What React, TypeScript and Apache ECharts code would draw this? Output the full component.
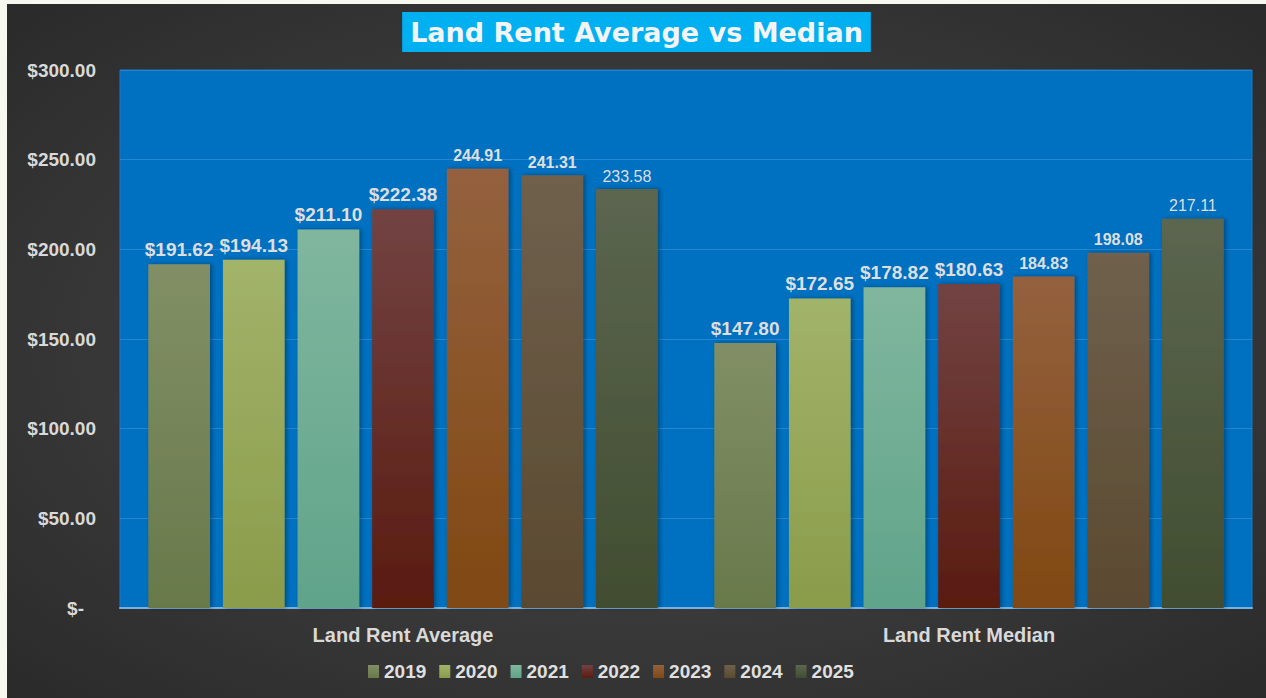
import React, { useEffect, useRef } from "react";
import * as echarts from "echarts";

const categories = ["Land Rent Average", "Land Rent Median"];
const years = ["2019", "2020", "2021", "2022", "2023", "2024", "2025"];
const values: number[][] = [
  [191.62, 147.8],
  [194.13, 172.65],
  [211.1, 178.82],
  [222.38, 180.63],
  [244.91, 184.83],
  [241.31, 198.08],
  [233.58, 217.11],
];
// label style per year: A = "$" bold large, B = bold plain, C = regular plain
const labelStyles = ["A", "A", "A", "A", "B", "B", "C"];
const topColors = ["#828f66", "#a2b36a", "#80b69e", "#724343", "#94613f", "#6f604d", "#5c6650"];
const bottomColors = ["#68794a", "#8a9c4a", "#5fa48a", "#5a1b10", "#804812", "#5a4a30", "#414d30"];

const FONT = "'Liberation Sans', Arial, sans-serif";

export default function App() {
  const ref = useRef<HTMLDivElement>(null);
  useEffect(() => {
    if (!ref.current) return;
    const chart = echarts.init(ref.current, undefined, { renderer: "svg" });
    const series = years.map((y, i) => {
      const st = labelStyles[i];
      return {
        name: y,
        type: "bar",
        barGap: "21%",
        barCategoryGap: "10%",
        data: values[i].map((v) => ({ value: v })),
        itemStyle: {
          color: {
            type: "linear",
            x: 0, y: 0, x2: 0, y2: 1,
            colorStops: [
              { offset: 0, color: topColors[i] },
              { offset: 1, color: bottomColors[i] },
            ],
          },
          shadowColor: "rgba(0,0,0,0.35)",
          shadowBlur: 4,
          shadowOffsetX: 2,
          shadowOffsetY: 0,
        },
        label: {
          show: true,
          position: "top",
          distance: 5,
          color: "#dedede",
          fontFamily: FONT,
          fontWeight: st === "C" ? "normal" : "bold",
          fontSize: st === "A" ? 19 : 16,
          formatter: (p: any) =>
            (st === "A" ? "$" : "") + Number(p.value).toFixed(2),
        },
      };
    });
    chart.setOption({
      animation: false,
      backgroundColor: {
        type: "radial",
        x: 0.5,
        y: 0.5,
        r: 0.75,
        colorStops: [
          { offset: 0, color: "#4b4b4b" },
          { offset: 1, color: "#282828" },
        ],
      },
      title: {
        text: "Land Rent Average vs Median",
        left: "center",
        top: 8,
        backgroundColor: "#00b0f0",
        padding: [7, 8, 6, 8],
        textStyle: {
          color: "#f4f4f4",
          fontFamily: "'DejaVu Sans', sans-serif",
          fontWeight: "bold",
          fontSize: 27,
        },
      },
      legend: {
        data: years,
        left: 356,
        top: 653,
        itemWidth: 11,
        itemHeight: 13,
        itemGap: 13,
        icon: "rect",
        textStyle: {
          color: "#e0e0e0",
          fontFamily: FONT,
          fontWeight: "bold",
          fontSize: 19,
        },
      },
      grid: {
        left: 113,
        top: 66,
        right: 14,
        bottom: 90,
        show: true,
        backgroundColor: "#0070c0",
        borderColor: "#1a78c8",
        borderWidth: 1,
      },
      xAxis: {
        type: "category",
        data: categories,
        axisTick: { show: false },
        axisLine: { lineStyle: { color: "#76b2e2", width: 2 } },
        axisLabel: {
          color: "#d9d9d9",
          fontFamily: FONT,
          fontWeight: "bold",
          fontSize: 20,
          margin: 17,
        },
      },
      yAxis: {
        type: "value",
        min: 0,
        max: 300,
        interval: 50,
        axisLine: { show: false },
        axisTick: { show: false },
        splitLine: { lineStyle: { color: "#2784ce", width: 1 } },
        axisLabel: {
          color: "#d9d9d9",
          fontFamily: FONT,
          fontWeight: "bold",
          fontSize: 19,
          margin: 24,
          formatter: (v: number) => (v === 0 ? "{z|$-}" : "$" + v.toFixed(2)),
          rich: {
            z: {
              color: "#d9d9d9",
              fontFamily: FONT,
              fontWeight: "bold",
              fontSize: 19,
              padding: [0, 12, 0, 0],
            },
          },
        },
      },
      series,
    });
    return () => chart.dispose();
  }, []);
  return (
    <div style={{ position: "fixed", inset: 0, background: "#f7f9f1" }}>
      <div
        ref={ref}
        style={{ position: "absolute", left: 7, top: 4, width: 1259, height: 694 }}
      />
    </div>
  );
}
